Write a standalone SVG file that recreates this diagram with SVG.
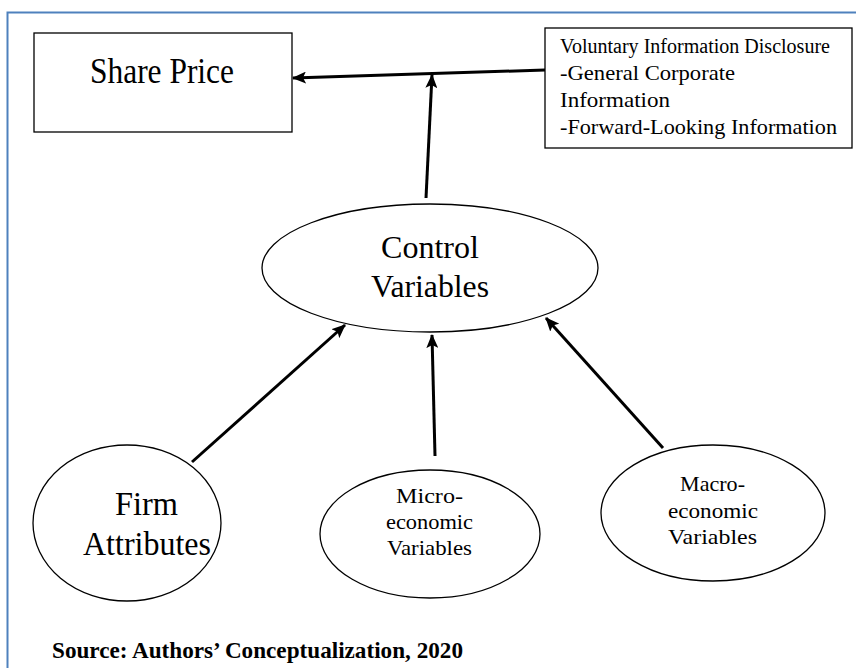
<svg xmlns="http://www.w3.org/2000/svg" width="856" height="668" viewBox="0 0 856 668">
<defs>
<marker id="ah" markerUnits="userSpaceOnUse" markerWidth="14" markerHeight="12" refX="13" refY="6" orient="auto">
<path d="M0,0 L14,6 L0,12 L3,6 Z" fill="#000"/>
</marker>
<style>
.n{fill:#fff;stroke:#000;stroke-width:1.3}
.t{font-family:'Liberation Serif','Times New Roman',serif;fill:#000}
.c{stroke:#000;stroke-width:3;fill:none;marker-end:url(#ah)}
</style>
</defs>
<rect width="856" height="668" fill="#fff"/>
<path d="M7.5,668 V12.5 H856" fill="none" stroke="#4F81BD" stroke-width="2"/>
<g id="share-price">
<rect class="n" x="34" y="33" width="258" height="99"/>
<text class="t" x="90" y="83" font-size="35" textLength="144" lengthAdjust="spacingAndGlyphs">Share Price</text>
</g>
<g id="voluntary-disclosure">
<rect class="n" x="545" y="28" width="307" height="120"/>
<text class="t" font-size="22">
<tspan x="560" y="53" font-size="20" textLength="270" lengthAdjust="spacingAndGlyphs">Voluntary Information Disclosure</tspan>
<tspan x="560" y="80" textLength="175" lengthAdjust="spacingAndGlyphs">-General Corporate</tspan>
<tspan x="560" y="107" textLength="110" lengthAdjust="spacingAndGlyphs">Information</tspan>
<tspan x="560" y="134" textLength="277" lengthAdjust="spacingAndGlyphs">-Forward-Looking Information</tspan>
</text>
</g>
<g id="control-variables">
<ellipse class="n" cx="430" cy="268" rx="168" ry="64"/>
<text class="t" font-size="32">
<tspan x="381" y="258" textLength="98" lengthAdjust="spacingAndGlyphs">Control</tspan>
<tspan x="371" y="297" textLength="118" lengthAdjust="spacingAndGlyphs">Variables</tspan>
</text>
</g>
<g id="firm-attributes">
<ellipse class="n" cx="127" cy="523" rx="94" ry="78"/>
<text class="t" font-size="34">
<tspan x="115" y="515" textLength="63" lengthAdjust="spacingAndGlyphs">Firm</tspan>
<tspan x="83" y="555" textLength="128" lengthAdjust="spacingAndGlyphs">Attributes</tspan>
</text>
</g>
<g id="micro-economic">
<ellipse class="n" cx="430" cy="534" rx="110" ry="64"/>
<text class="t" font-size="22">
<tspan x="396" y="503" textLength="67" lengthAdjust="spacingAndGlyphs">Micro-</tspan>
<tspan x="386" y="529" textLength="87" lengthAdjust="spacingAndGlyphs">economic</tspan>
<tspan x="387" y="555" textLength="85" lengthAdjust="spacingAndGlyphs">Variables</tspan>
</text>
</g>
<g id="macro-economic">
<ellipse class="n" cx="713" cy="513" rx="112" ry="68"/>
<text class="t" font-size="22">
<tspan x="680" y="491" textLength="65" lengthAdjust="spacingAndGlyphs">Macro-</tspan>
<tspan x="668" y="518" textLength="90" lengthAdjust="spacingAndGlyphs">economic</tspan>
<tspan x="668" y="544" textLength="89" lengthAdjust="spacingAndGlyphs">Variables</tspan>
</text>
</g>
<g id="connectors">
<line class="c" x1="545" y1="70" x2="293" y2="78"/>
<line class="c" x1="426" y1="198" x2="432" y2="75"/>
<line class="c" x1="192" y1="462" x2="345" y2="325"/>
<line class="c" x1="435" y1="456" x2="432" y2="335"/>
<line class="c" x1="663" y1="448" x2="546" y2="318"/>
</g>
<text id="source" class="t" x="52" y="658" font-size="23" font-weight="bold" textLength="411" lengthAdjust="spacingAndGlyphs">Source: Authors’ Conceptualization, 2020</text>
</svg>
